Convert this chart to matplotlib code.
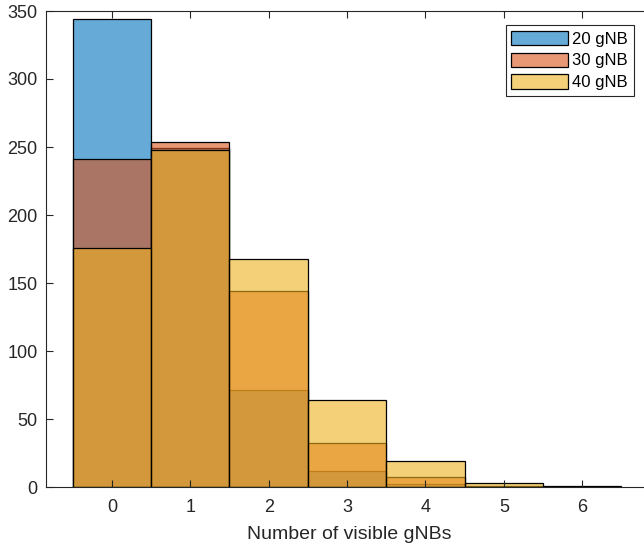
import matplotlib.pyplot as plt
from matplotlib.colors import to_rgba

plt.rcParams['font.family'] = ['Liberation Sans', 'DejaVu Sans']

# histogram counts per number of visible gNBs
bins = [0, 1, 2, 3, 4, 5, 6]
counts_20 = [344, 249, 71, 12, 2, 0, 0]
counts_30 = [241, 254, 144, 32, 7, 1, 0]
counts_40 = [176, 248, 168, 64, 19, 3, 1]
labels = ['20 gNB', '30 gNB', '40 gNB']
colors = ['#0072BD', '#D95319', '#EDB120']

fig = plt.figure(figsize=(6.44, 5.48), dpi=100)
ax = fig.add_axes([46 / 644, 61 / 548, 606 / 644, 476 / 548])

# translucent faces, solid black edges
for counts, lab, col in zip([counts_20, counts_30, counts_40], labels, colors):
    ax.bar(bins, counts, width=1.0, color=to_rgba(col, 0.6),
           edgecolor='black', linewidth=0.9, label=lab)

ax.set_xlim(-0.84, 6.89)
ax.set_ylim(0, 350)
ax.set_xticks(bins)
ax.set_yticks(range(0, 351, 50))
ax.set_xlabel('Number of visible gNBs', fontsize=14, color='#262626', labelpad=7)
ax.tick_params(direction='in', top=True, right=True, labelsize=13,
               colors='#262626', length=5, width=0.8)
ax.tick_params(axis='x', pad=9)
ax.tick_params(axis='y', pad=6)
for s in ax.spines.values():
    s.set_color('#262626')
    s.set_linewidth(0.8)

leg = ax.legend(loc='upper right', bbox_to_anchor=(0.970, 0.9706), fontsize=12,
                fancybox=False, edgecolor='#262626', framealpha=1,
                handlelength=3.4, handleheight=0.95, handletextpad=0.25,
                labelspacing=0.35, borderpad=0.35, borderaxespad=0)
leg.get_frame().set_linewidth(0.8)

fig.savefig('out.png', dpi=100)
